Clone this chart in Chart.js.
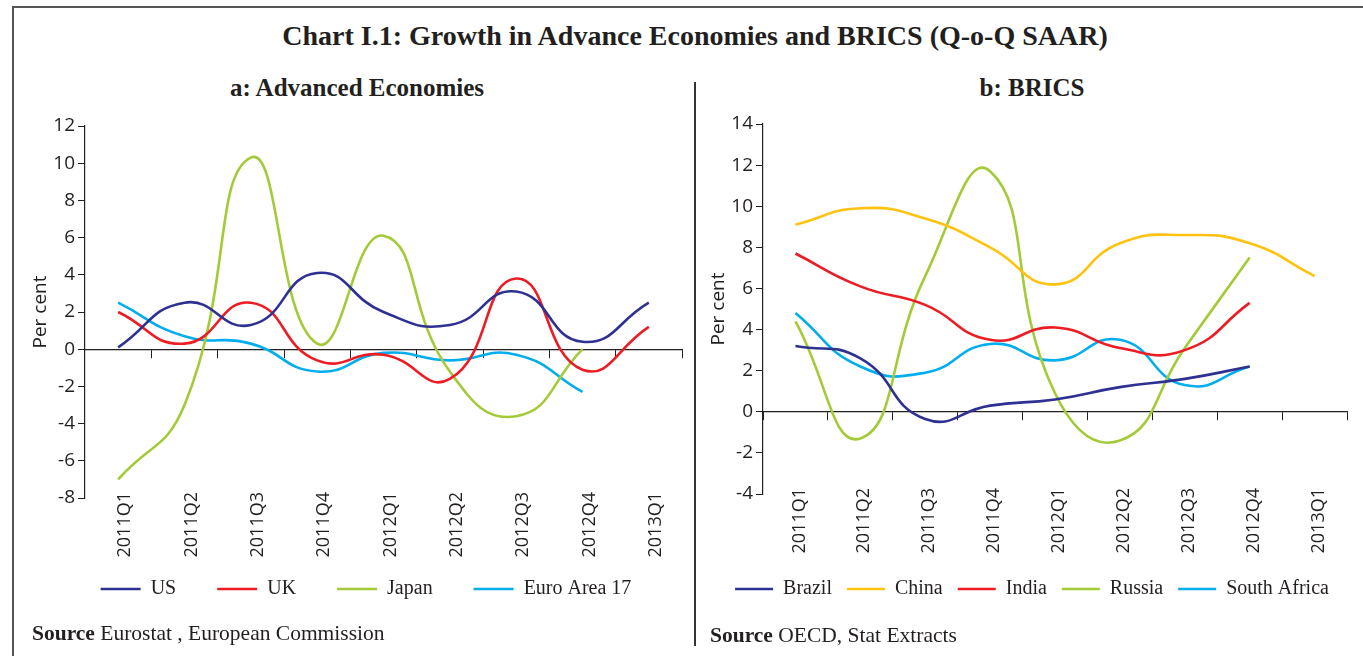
<!DOCTYPE html>
<html>
<head>
<meta charset="utf-8">
<script src="https://cdn.jsdelivr.net/npm/chart.js@4.4.0/dist/chart.umd.min.js"></script>
<style>
  body { margin: 0; width: 1363px; height: 656px; background: #fff; position: relative; overflow: hidden; }
  .txt { position: absolute; white-space: nowrap; color: #231f20; font-family: "Liberation Serif", serif; }
  .box { position: absolute; }
</style>
</head>
<body>
<div style="position:absolute;left:12px;top:6px;width:1360px;height:660px;border-top:2px solid #555;border-left:2px solid #555;"></div>
<div style="position:absolute;left:694px;top:82px;width:1.5px;height:564px;background:#333;"></div>

<div class="txt" style="left:0;width:1390px;top:20px;text-align:center;font-weight:bold;font-size:28px;">Chart I.1: Growth in Advance Economies and BRICS (Q-o-Q SAAR)</div>
<div class="txt" style="left:0;width:714px;top:74px;text-align:center;font-weight:bold;font-size:25px;">a: Advanced Economies</div>
<div class="txt" style="left:700px;width:664px;top:74px;text-align:center;font-weight:bold;font-size:25px;">b: BRICS</div>

<div class="box" style="left:12px;top:100px;width:680px;height:552px;"><canvas id="chartA"></canvas></div>
<div class="box" style="left:700px;top:100px;width:663px;height:522px;"><canvas id="chartB"></canvas></div>

<div class="txt" style="left:32px;top:621px;font-size:21.5px;"><b>Source</b> Eurostat , European Commission</div>
<div class="txt" style="left:710px;top:623px;font-size:21.5px;"><b>Source</b> OECD, Stat Extracts</div>

<script>
const quarters = ['2011Q1', '2011Q2', '2011Q3', '2011Q4', '2012Q1', '2012Q2', '2012Q3', '2012Q4', '2013Q1'];

// a: Advanced Economies
const usGrowth    = [0.1, 2.5, 1.3, 4.1, 2.0, 1.3, 3.1, 0.4, 2.5];
const ukGrowth    = [2.0, 0.3, 2.5, -0.6, -0.3, -1.6, 3.8, -1.1, 1.2];
const japanGrowth = [-7.0, -3.0, 10.3, 0.3, 6.1, -1.2, -3.6, 0.0, null];
const euroGrowth  = [2.5, 0.7, 0.3, -1.2, -0.2, -0.6, -0.3, -2.3, null];

// b: BRICS
const brazilGrowth  = [3.2, 2.6, -0.35, 0.3, 0.6, 1.2, 1.6, 2.2, null];
const chinaGrowth   = [9.1, 9.9, 9.4, 8.0, 6.2, 8.2, 8.6, 8.2, 6.6];
const indiaGrowth   = [7.7, 6.1, 5.2, 3.5, 4.1, 3.1, 3.0, 5.3, null];
const russiaGrowth  = [4.4, -1.3, 6.6, 11.7, 0.9, -1.4, 3.1, 7.5, null];
const safricaGrowth = [4.8, 2.2, 1.9, 3.3, 2.5, 3.5, 1.3, 2.2, null];

const ink = '#231f20';
const navy = '#2e3192', red = '#ed1c24', green = '#a3cb38', cyan = '#00aeef', yellow = '#ffc20e';

// pull the quarter labels and the legend up a bit after layout
const nudge = {
  id: 'nudge',
  afterLayout(chart, args, opts) {
    const lg = chart.legend, x2 = chart.scales.x2;
    lg.top -= opts.legend;
    lg.bottom -= opts.legend;
    x2.top -= opts.labels;
    x2.bottom -= opts.labels;
  }
};

function line(label, data, color) {
  return {
    label: label,
    data: data,
    borderColor: color,
    backgroundColor: color,
    borderWidth: 2.6,
    pointRadius: 0,
    tension: 0.5,
    fill: false,
    xAxisID: 'x'
  };
}

// p: layout numbers for one panel (canvas px)
function makeChart(canvas, datasets, yMin, yMax, p) {
  return new Chart(canvas, {
    type: 'line',
    data: { labels: quarters, datasets: datasets },
    plugins: [nudge],
    options: {
      responsive: true,
      maintainAspectRatio: false,
      animation: false,
      layout: { padding: { top: p.top, right: p.right, bottom: 3, left: p.left } },
      plugins: {
        tooltip: { enabled: false },
        nudge: { legend: p.lift, labels: 6 },
        legend: {
          position: 'bottom',
          labels: {
            usePointStyle: true,
            pointStyle: 'line',
            pointStyleWidth: p.sample,
            color: ink,
            padding: p.gap,
            font: { family: 'Liberation Serif', size: 20 }
          }
        }
      },
      scales: {
        x: {
          type: 'category',
          offset: true,
          position: { y: 0 },
          ticks: { display: false },
          grid: { drawOnChartArea: false, drawTicks: true, tickLength: 8, color: ink, offset: true },
          border: { display: true, color: ink, width: 1.2 }
        },
        x2: {
          type: 'category',
          offset: true,
          position: 'bottom',
          grid: { display: false, drawTicks: false },
          border: { display: false },
          ticks: { minRotation: 90, maxRotation: 90, padding: 0, labelOffset: p.shift, color: ink, autoSkip: false,
                   font: { family: 'Open Sans', size: 18 } },
          afterFit: s => { s.height = 80; }
        },
        y: {
          min: yMin,
          max: yMax,
          ticks: { stepSize: 2, color: ink, padding: 3, font: { family: 'Open Sans', size: 19 } },
          grid: { drawOnChartArea: false, tickLength: 7, color: ink },
          border: { display: true, color: ink, width: 1.2 },
          title: { display: true, text: 'Per cent', color: ink, padding: { top: p.titlePad, bottom: 0 },
                   font: { family: 'Open Sans', size: 19 } },
          afterFit: s => { s.width = p.yw; }
        }
      }
    }
  });
}

makeChart(document.getElementById('chartA'), [
  line('US', usGrowth, navy),
  line('UK', ukGrowth, red),
  line('Japan', japanGrowth, green),
  line('Euro Area 17', euroGrowth, cyan)
], -8, 12, { top: 26, right: 10, left: 38, yw: 35, titlePad: -21, gap: 41, lift: 40, sample: 40, shift: 7 });

makeChart(document.getElementById('chartB'), [
  line('Brazil', brazilGrowth, navy),
  line('China', chinaGrowth, yellow),
  line('India', indiaGrowth, red),
  line('Russia', russiaGrowth, green),
  line('South Africa', safricaGrowth, cyan)
], -4, 14, { top: 24, right: 16, left: 17, yw: 46, titlePad: -10, gap: 15, lift: 10, sample: 38, shift: 4 });
</script>
</body>
</html>
